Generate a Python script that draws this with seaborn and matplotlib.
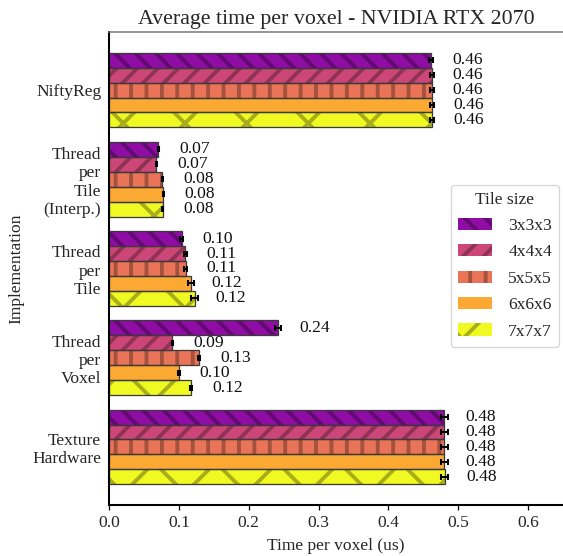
import matplotlib
matplotlib.use("Agg")
import matplotlib.pyplot as plt
from matplotlib.patches import Patch, Rectangle
import numpy as np
import pandas as pd
import seaborn as sns

# --- data -------------------------------------------------------------
implementations = [
    "NiftyReg",
    "Thread\nper\nTile\n(Interp.)",
    "Thread\nper\nTile",
    "Thread\nper\nVoxel",
    "Texture\nHardware",
]
tile_sizes = ["3x3x3", "4x4x4", "5x5x5", "6x6x6", "7x7x7"]

# mean time per voxel (us), rows = implementation, cols = tile size
t_niftyreg = [0.461, 0.462, 0.462, 0.463, 0.463]
t_tile_interp = [0.0706, 0.0680, 0.0764, 0.0780, 0.0768]
t_tile = [0.104, 0.109, 0.110, 0.117, 0.123]
t_voxel = [0.242, 0.0903, 0.129, 0.100, 0.1175]
t_texture = [0.480, 0.480, 0.480, 0.480, 0.481]

# standard deviation of the measurements
e_niftyreg = [0.003, 0.003, 0.003, 0.003, 0.003]
e_tile_interp = [0.001, 0.001, 0.001, 0.001, 0.001]
e_tile = [0.002, 0.002, 0.002, 0.004, 0.005]
e_voxel = [0.004, 0.0008, 0.001, 0.001, 0.001]
e_texture = [0.005, 0.005, 0.005, 0.005, 0.005]

means = [t_niftyreg, t_tile_interp, t_tile, t_voxel, t_texture]
errs = [e_niftyreg, e_tile_interp, e_tile, e_voxel, e_texture]

rows = []
for impl, mrow, erow in zip(implementations, means, errs):
    for tile, m, e in zip(tile_sizes, mrow, erow):
        rows.append({"Implementation": impl, "Tile size": tile, "time": m, "err": e})
df = pd.DataFrame(rows)

# --- style ------------------------------------------------------------
DPI = 185
sns.set_theme(style="ticks")
plt.rcParams["font.family"] = ["Liberation Serif", "DejaVu Serif"]
plt.rcParams["hatch.linewidth"] = 1.5

colors = ["#8f0da4", "#cc4778", "#ea7457", "#fba933", "#f0f921"]
hatches = ["\\\\\\", "///", "||", "", "x"]


def darker(c, f=0.7):
    r, g, b = matplotlib.colors.to_rgb(c)
    return (r * f, g * f, b * f)


fig, ax = plt.subplots(figsize=(563 / DPI, 556 / DPI), dpi=DPI)
fig.subplots_adjust(left=109 / 563, right=1.0, top=1 - 32 / 556, bottom=1 - 505 / 556)

sns.barplot(
    data=df, y="Implementation", x="time", hue="Tile size",
    order=implementations, hue_order=tile_sizes,
    palette=colors, saturation=1, width=0.84, errorbar=None,
    orient="h", ax=ax, legend=False,
)

fs = 6.8
for container, col, hatch, tile in zip(ax.containers, colors, hatches, tile_sizes):
    sub = df[df["Tile size"] == tile].set_index("Implementation").loc[implementations]
    ys, xs = [], []
    for bar, v in zip(container, sub["time"]):
        bar.set_hatch(hatch)
        bar.set_edgecolor(darker(col))
        bar.set_linewidth(0)
        ax.add_patch(Rectangle(bar.get_xy(), bar.get_width(), bar.get_height(),
                               fill=False, ec="#3a3a3a", lw=0.5, zorder=bar.get_zorder() + 0.1))
        ys.append(bar.get_y() + bar.get_height() / 2)
        xs.append(bar.get_width())
    ax.errorbar(xs, ys, xerr=sub["err"].values, fmt="none", ecolor="black",
                elinewidth=0.8, capsize=1.2, capthick=0.8, zorder=5)
    for x, y, v in zip(xs, ys, sub["time"]):
        ax.text(x + 0.03, y, f"{v:.2f}", va="center", ha="left", fontsize=fs, color="#111111")

ax.set_xlim(0, 0.65)
ax.set_ylim(4.65, -0.65)
ax.set_xticks([0.0, 0.1, 0.2, 0.3, 0.4, 0.5, 0.6])
ax.set_xticklabels(["0.0", "0.1", "0.2", "0.3", "0.4", "0.5", "0.6"])
ax.tick_params(axis="x", length=2, width=0.5, labelsize=fs, pad=2, color="black")
ax.tick_params(axis="y", length=0, labelsize=fs, pad=3)

for side in ["left", "bottom"]:
    ax.spines[side].set_color("black")
    ax.spines[side].set_linewidth(0.8)
ax.spines["top"].set_visible(True)
ax.spines["top"].set_color("#777777")
ax.spines["top"].set_linewidth(0.6)
ax.spines["right"].set_visible(False)

ax.set_xlabel("Time per voxel (us)", fontsize=fs, labelpad=2.5)
ax.set_ylabel("Implementation", fontsize=fs, labelpad=3)
ax.set_title("Average time per voxel - NVIDIA RTX 2070", fontsize=8.5, pad=3)

handles = [Patch(facecolor=c, edgecolor=darker(c), hatch=h, lw=0) for c, h in zip(colors, hatches)]
leg = ax.legend(handles, tile_sizes, title="Tile size", loc="upper right",
                bbox_to_anchor=(0.991, 0.677), borderaxespad=0, fontsize=fs,
                title_fontsize=fs, frameon=True, fancybox=True,
                labelspacing=0.58, handletextpad=0.9)
leg.get_frame().set_edgecolor("#cccccc")
leg.get_frame().set_linewidth(0.5)

fig.savefig("out.png", dpi=DPI)
